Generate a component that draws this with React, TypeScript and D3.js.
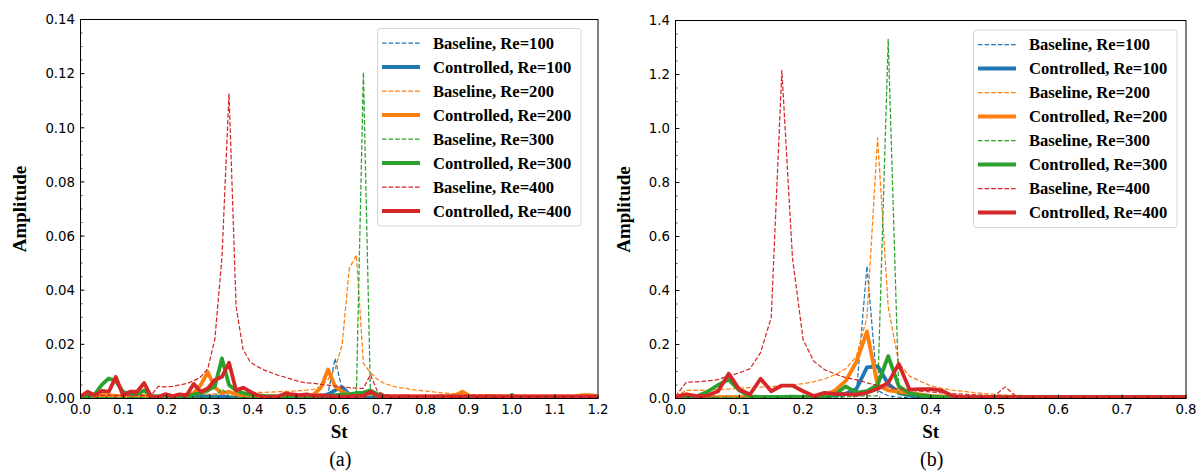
import React from "react";
import * as d3 from "d3";

// ---------- DATA ----------
// Panel (a): frequency resolution 0.0164, 74 samples (St 0 .. ~1.2)
const STEP_A = 0.0164;
const blueBaseA = [
  0.0002, 0.0002, 0.0002, 0.0002, 0.0002, 0.0002, 0.0002, 0.0002, 0.0002, 0.0002,
  0.0002, 0.0002, 0.0002, 0.0002, 0.0002, 0.0002, 0.0003, 0.0004, 0.0005, 0.0004,
  0.0004, 0.0003, 0.0003, 0.0003, 0.0003, 0.0003, 0.0003, 0.0003, 0.0003, 0.0003,
  0.0003, 0.0003, 0.0004, 0.0005, 0.0008, 0.002, 0.0148, 0.003, 0.001, 0.0005,
  0.0004, 0.0003, 0.0003, 0.0003, 0.0003, 0.0003, 0.0003, 0.0003, 0.0003, 0.0003,
  0.0003, 0.0003, 0.0003, 0.0003, 0.0003, 0.0003, 0.0003, 0.0003, 0.0003, 0.0003,
  0.0003, 0.0003, 0.0003, 0.0003, 0.0003, 0.0003, 0.0003, 0.0003, 0.0003, 0.0003,
  0.0003, 0.0003, 0.0003, 0.0003,
];
const blueCtrlA = [
  0.0003, 0.0003, 0.0003, 0.0003, 0.0003, 0.0003, 0.0003, 0.0003, 0.0003, 0.0003,
  0.0003, 0.0003, 0.0003, 0.0003, 0.0003, 0.0004, 0.0008, 0.0009, 0.0008, 0.0007,
  0.0008, 0.0005, 0.0004, 0.0003, 0.0003, 0.0003, 0.0003, 0.0003, 0.0003, 0.0003,
  0.0003, 0.0003, 0.0004, 0.0005, 0.0008, 0.0015, 0.003, 0.0042, 0.0015, 0.0008,
  0.0005, 0.0004, 0.0003, 0.0003, 0.0003, 0.0003, 0.0003, 0.0003, 0.0003, 0.0003,
  0.0003, 0.0003, 0.0003, 0.0003, 0.0003, 0.0003, 0.0003, 0.0003, 0.0003, 0.0003,
  0.0003, 0.0003, 0.0003, 0.0003, 0.0003, 0.0003, 0.0003, 0.0003, 0.0003, 0.0003,
  0.0003, 0.0003, 0.0003, 0.0003,
];
const orangeBaseA = [
  0.001, 0.001, 0.001, 0.001, 0.001, 0.001, 0.001, 0.001, 0.0011, 0.0011,
  0.0012, 0.0012, 0.0013, 0.0013, 0.0014, 0.0014, 0.0015, 0.0015, 0.0016, 0.0017,
  0.0018, 0.0025, 0.0018, 0.0019, 0.002, 0.0023, 0.0023, 0.0024, 0.0025, 0.0026,
  0.0027, 0.0029, 0.0031, 0.0034, 0.0045, 0.007, 0.011, 0.02, 0.048, 0.053,
  0.013, 0.0095, 0.007, 0.0055, 0.0047, 0.004, 0.0037, 0.0033, 0.003, 0.0027,
  0.0024, 0.0021, 0.0019, 0.0017, 0.0016, 0.0015, 0.0014, 0.0014, 0.0013, 0.0013,
  0.0012, 0.0012, 0.0011, 0.0011, 0.001, 0.001, 0.001, 0.0009, 0.0009, 0.0009,
  0.0009, 0.0008, 0.0008, 0.0008,
];
const orangeCtrlA = [
  0.0005, 0.0008, 0.001, 0.0012, 0.0012, 0.001, 0.0008, 0.001, 0.0012, 0.001,
  0.0006, 0.0006, 0.0006, 0.0006, 0.0006, 0.0008, 0.002, 0.005, 0.0098, 0.004,
  0.002, 0.0025, 0.0015, 0.0012, 0.001, 0.0009, 0.0008, 0.0008, 0.0008, 0.0008,
  0.0008, 0.0008, 0.0008, 0.0015, 0.004, 0.0107, 0.0045, 0.0025, 0.0015, 0.0012,
  0.001, 0.002, 0.001, 0.0009, 0.0008, 0.0008, 0.0008, 0.0008, 0.0008, 0.0008,
  0.0008, 0.0008, 0.0009, 0.0012, 0.0025, 0.001, 0.0008, 0.0008, 0.0008, 0.0008,
  0.0008, 0.0008, 0.0008, 0.0008, 0.0008, 0.0008, 0.0008, 0.0008, 0.0008, 0.0008,
  0.0009, 0.0012, 0.0012, 0.001,
];
const greenBaseA = [
  0.0003, 0.0003, 0.0003, 0.0003, 0.0003, 0.0003, 0.0003, 0.0003, 0.0003, 0.0003,
  0.0003, 0.0003, 0.0003, 0.0003, 0.0003, 0.0003, 0.0003, 0.0004, 0.0005, 0.0008,
  0.0035, 0.001, 0.0004, 0.0003, 0.0003, 0.0003, 0.0003, 0.0003, 0.0003, 0.0003,
  0.0003, 0.0003, 0.0003, 0.0003, 0.0003, 0.0003, 0.0003, 0.0004, 0.0005, 0.001,
  0.1205, 0.001, 0.0005, 0.0003, 0.0003, 0.0003, 0.0003, 0.0003, 0.0003, 0.0003,
  0.0003, 0.0003, 0.0003, 0.0003, 0.0003, 0.0003, 0.0003, 0.0003, 0.0003, 0.0004,
  0.0006, 0.0018, 0.0006, 0.0004, 0.0003, 0.0003, 0.0003, 0.0003, 0.0003, 0.0003,
  0.0003, 0.0003, 0.0003, 0.0003,
];
const greenCtrlA = [
  0.0005, 0.001, 0.0015, 0.005, 0.0074, 0.0065, 0.0025, 0.0015, 0.0015, 0.003,
  0.001, 0.0008, 0.0008, 0.001, 0.0008, 0.0006, 0.0015, 0.002, 0.003, 0.0045,
  0.0148, 0.005, 0.003, 0.002, 0.0015, 0.0012, 0.001, 0.0009, 0.0008, 0.0008,
  0.0008, 0.0008, 0.0008, 0.0008, 0.0008, 0.0008, 0.0012, 0.0015, 0.0015, 0.002,
  0.0022, 0.003, 0.0015, 0.0008, 0.0005, 0.0005, 0.0005, 0.0005, 0.0005, 0.0005,
  0.0005, 0.0005, 0.0005, 0.0005, 0.0005, 0.0005, 0.0005, 0.0005, 0.0005, 0.0005,
  0.0005, 0.0006, 0.0005, 0.0005, 0.0005, 0.0005, 0.0005, 0.0005, 0.0005, 0.0005,
  0.0005, 0.0005, 0.0005, 0.0005,
];
const redBaseA = [
  0.0012, 0.0012, 0.0012, 0.0012, 0.0012, 0.0012, 0.0012, 0.0012, 0.0012, 0.0012,
  0.0012, 0.0045, 0.0043, 0.0045, 0.005, 0.0055, 0.0065, 0.008, 0.011, 0.022,
  0.052, 0.1127, 0.034, 0.018, 0.0135, 0.0118, 0.0105, 0.0095, 0.0085, 0.0078,
  0.007, 0.0062, 0.0058, 0.0056, 0.0052, 0.0049, 0.0046, 0.0043, 0.004, 0.0038,
  0.0037, 0.0088, 0.0025, 0.0015, 0.0012, 0.0012, 0.0011, 0.0011, 0.001, 0.001,
  0.001, 0.001, 0.001, 0.001, 0.0009, 0.0009, 0.0009, 0.0009, 0.0009, 0.0009,
  0.0009, 0.0009, 0.0009, 0.0008, 0.0008, 0.0008, 0.0008, 0.0008, 0.0008, 0.0008,
  0.0008, 0.0008, 0.0008, 0.0008,
];
const redCtrlA = [
  0.0008, 0.0025, 0.0012, 0.0028, 0.0025, 0.008, 0.0012, 0.0025, 0.0025, 0.0057,
  0.0006, 0.0006, 0.0016, 0.0009, 0.0015, 0.0012, 0.0054, 0.0025, 0.0037, 0.0068,
  0.008, 0.0132, 0.003, 0.004, 0.0025, 0.0012, 0.0006, 0.0006, 0.0008, 0.0018,
  0.0015, 0.0012, 0.0015, 0.001, 0.0012, 0.001, 0.0008, 0.0006, 0.0008, 0.001,
  0.001, 0.0025, 0.001, 0.0008, 0.0008, 0.0008, 0.0009, 0.0008, 0.0008, 0.0008,
  0.0008, 0.0009, 0.0008, 0.0008, 0.0008, 0.0008, 0.0008, 0.0008, 0.0009, 0.0008,
  0.0008, 0.0008, 0.0008, 0.0008, 0.0008, 0.0008, 0.0008, 0.0008, 0.0008, 0.0008,
  0.0008, 0.0008, 0.0008, 0.0008,
];

// Panel (b): frequency resolution 1/60, 49 samples (St 0 .. 0.8)
const STEP_B = 1 / 60;
const blueBaseB = [
  0.003, 0.003, 0.003, 0.003, 0.003, 0.003, 0.003, 0.003, 0.003, 0.003,
  0.003, 0.003, 0.003, 0.003, 0.004, 0.006, 0.01, 0.015, 0.49, 0.03,
  0.01, 0.005, 0.003, 0.003, 0.003, 0.003, 0.003, 0.003, 0.003, 0.003,
  0.003, 0.003, 0.003, 0.003, 0.003, 0.003, 0.003, 0.003, 0.003, 0.003,
  0.003, 0.003, 0.003, 0.003, 0.003, 0.003, 0.003, 0.003, 0.003,
];
const blueCtrlB = [
  0.003, 0.004, 0.004, 0.004, 0.004, 0.004, 0.004, 0.004, 0.004, 0.004,
  0.004, 0.004, 0.005, 0.006, 0.008, 0.012, 0.018, 0.035, 0.115, 0.12,
  0.055, 0.02, 0.012, 0.008, 0.005, 0.004, 0.004, 0.004, 0.004, 0.004,
  0.004, 0.004, 0.004, 0.004, 0.004, 0.004, 0.004, 0.004, 0.004, 0.004,
  0.004, 0.004, 0.004, 0.004, 0.004, 0.004, 0.004, 0.004, 0.004,
];
const orangeBaseB = [
  0.005, 0.03, 0.03, 0.031, 0.033, 0.035, 0.038, 0.04, 0.042, 0.044,
  0.047, 0.05, 0.055, 0.062, 0.072, 0.088, 0.11, 0.155, 0.3, 0.965,
  0.34, 0.13, 0.083, 0.064, 0.047, 0.038, 0.031, 0.027, 0.022, 0.018,
  0.015, 0.013, 0.012, 0.011, 0.01, 0.009, 0.009, 0.008, 0.008, 0.007,
  0.007, 0.007, 0.006, 0.006, 0.006, 0.006, 0.005, 0.005, 0.005,
];
const orangeCtrlB = [
  0.003, 0.015, 0.008, 0.006, 0.005, 0.005, 0.005, 0.005, 0.005, 0.005,
  0.005, 0.005, 0.005, 0.006, 0.012, 0.03, 0.065, 0.135, 0.248, 0.05,
  0.03, 0.025, 0.02, 0.015, 0.01, 0.008, 0.006, 0.005, 0.005, 0.005,
  0.005, 0.005, 0.005, 0.005, 0.005, 0.006, 0.005, 0.005, 0.005, 0.005,
  0.005, 0.005, 0.005, 0.005, 0.005, 0.005, 0.005, 0.005, 0.005,
];
const greenBaseB = [
  0.003, 0.004, 0.004, 0.004, 0.004, 0.004, 0.004, 0.004, 0.004, 0.004,
  0.004, 0.004, 0.004, 0.004, 0.005, 0.005, 0.006, 0.008, 0.01, 0.01,
  1.33, 0.015, 0.01, 0.006, 0.004, 0.004, 0.004, 0.004, 0.004, 0.004,
  0.004, 0.004, 0.004, 0.004, 0.004, 0.004, 0.004, 0.004, 0.004, 0.004,
  0.004, 0.004, 0.004, 0.004, 0.004, 0.004, 0.004, 0.004, 0.004,
];
const greenCtrlB = [
  0.005, 0.01, 0.008, 0.025, 0.05, 0.07, 0.03, 0.008, 0.006, 0.006,
  0.006, 0.007, 0.006, 0.005, 0.008, 0.015, 0.045, 0.022, 0.027, 0.05,
  0.157, 0.045, 0.02, 0.012, 0.008, 0.005, 0.005, 0.005, 0.005, 0.005,
  0.005, 0.005, 0.005, 0.005, 0.005, 0.005, 0.005, 0.005, 0.005, 0.005,
  0.005, 0.005, 0.005, 0.005, 0.005, 0.005, 0.005, 0.005, 0.005,
];
const redBaseB = [
  0.008, 0.06, 0.062, 0.065, 0.07, 0.083, 0.095, 0.11, 0.17, 0.3,
  1.215, 0.52, 0.218, 0.138, 0.107, 0.091, 0.077, 0.07, 0.058, 0.048,
  0.043, 0.036, 0.031, 0.027, 0.024, 0.021, 0.018, 0.016, 0.014, 0.012,
  0.01, 0.043, 0.009, 0.008, 0.008, 0.007, 0.007, 0.007, 0.006, 0.006,
  0.006, 0.006, 0.006, 0.005, 0.005, 0.005, 0.005, 0.005, 0.005,
];
const redCtrlB = [
  0.006, 0.015, 0.009, 0.011, 0.027, 0.092, 0.033, 0.015, 0.073, 0.027,
  0.048, 0.048, 0.027, 0.009, 0.021, 0.017, 0.016, 0.014, 0.021, 0.036,
  0.058, 0.128, 0.033, 0.035, 0.035, 0.03, 0.01, 0.006, 0.005, 0.005,
  0.005, 0.005, 0.005, 0.005, 0.005, 0.005, 0.005, 0.005, 0.005, 0.005,
  0.005, 0.005, 0.005, 0.005, 0.005, 0.005, 0.005, 0.005, 0.005,
];

const legendLabels = [
  "Baseline, Re=100", "Controlled, Re=100",
  "Baseline, Re=200", "Controlled, Re=200",
  "Baseline, Re=300", "Controlled, Re=300",
  "Baseline, Re=400", "Controlled, Re=400",
];
const colors = ["#1f77b4", "#ff7f0e", "#2ca02c", "#d62728"];

const xTicksA = [0, 0.1, 0.2, 0.3, 0.4, 0.5, 0.6, 0.7, 0.8, 0.9, 1.0, 1.1, 1.2];
const yTicksA = [0, 0.02, 0.04, 0.06, 0.08, 0.1, 0.12, 0.14];
const xTicksB = [0, 0.1, 0.2, 0.3, 0.4, 0.5, 0.6, 0.7, 0.8];
const yTicksB = [0, 0.2, 0.4, 0.6, 0.8, 1.0, 1.2, 1.4];

const seriesA = [blueBaseA, blueCtrlA, orangeBaseA, orangeCtrlA, greenBaseA, greenCtrlA, redBaseA, redCtrlA];
const seriesB = [blueBaseB, blueCtrlB, orangeBaseB, orangeCtrlB, greenBaseB, greenCtrlB, redBaseB, redCtrlB];

const TICK_FONT = "'DejaVu Sans', sans-serif";
const SERIF = "'Liberation Serif', 'Times New Roman', serif";

type PanelProps = {
  id: string;
  series: number[][];
  step: number;
  xDomain: [number, number];
  yDomain: [number, number];
  xRange: [number, number];
  yRange: [number, number];
  xTicks: number[];
  yTicks: number[];
  xMinorStep: number;
  yMinorStep: number;
  xFmt: (v: number) => string;
  yFmt: (v: number) => string;
  legendX: number;
  legendY: number;
  tag: string;
  ylabelX: number;
};

function Panel(p: PanelProps) {
  const x = d3.scaleLinear().domain(p.xDomain).range(p.xRange);
  const y = d3.scaleLinear().domain(p.yDomain).range(p.yRange);
  const [x0, x1] = p.xRange;
  const [y0, y1] = p.yRange; // y0 bottom, y1 top
  const line = d3
    .line<number>()
    .x((_, i) => x(i * p.step))
    .y((d) => y(d));

  const nxMinor = Math.round((p.xDomain[1] - p.xDomain[0]) / p.xMinorStep);
  const xMinor = d3.range(nxMinor + 1).map((i) => p.xDomain[0] + i * p.xMinorStep);
  const nyMinor = Math.round((p.yDomain[1] - p.yDomain[0]) / p.yMinorStep);
  const yMinor = d3.range(nyMinor + 1).map((i) => p.yDomain[0] + i * p.yMinorStep);

  const lx = p.legendX;
  const ly = p.legendY;
  const rowH = 24;

  return (
    <g>
      <defs>
        <clipPath id={`clip-${p.id}`}>
          <rect x={x0} y={y1} width={x1 - x0} height={y0 - y1} />
        </clipPath>
      </defs>
      <g clipPath={`url(#clip-${p.id})`}>
        {p.series.map((s, i) => {
          const dashed = i % 2 === 0;
          return (
            <path
              key={i}
              d={line(s) || ""}
              fill="none"
              stroke={colors[Math.floor(i / 2)]}
              strokeWidth={dashed ? 1.25 : 3.8}
              strokeDasharray={dashed ? "4.6,2" : undefined}
              strokeLinejoin="round"
            />
          );
        })}
      </g>
      {/* minor ticks */}
      {xMinor.map((v, i) => (
        <line key={`xm${i}`} x1={x(v)} x2={x(v)} y1={y0} y2={y0 - 2} stroke="#000" strokeWidth={0.7} />
      ))}
      {yMinor.map((v, i) => (
        <line key={`ym${i}`} x1={x0} x2={x0 + 2} y1={y(v)} y2={y(v)} stroke="#000" strokeWidth={0.7} />
      ))}
      {/* major ticks */}
      {p.xTicks.map((v, i) => (
        <g key={`xt${i}`}>
          <line x1={x(v)} x2={x(v)} y1={y0} y2={y0 - 4} stroke="#000" strokeWidth={0.9} />
          <text x={x(v)} y={y0 + 15} textAnchor="middle" fontFamily={TICK_FONT} fontSize={13.3} fill="#000">
            {p.xFmt(v)}
          </text>
        </g>
      ))}
      {p.yTicks.map((v, i) => (
        <g key={`yt${i}`}>
          <line x1={x0} x2={x0 + 4} y1={y(v)} y2={y(v)} stroke="#000" strokeWidth={0.9} />
          <text x={x0 - 5.5} y={y(v) + 4.8} textAnchor="end" fontFamily={TICK_FONT} fontSize={13.3} fill="#000">
            {p.yFmt(v)}
          </text>
        </g>
      ))}
      {/* frame */}
      <rect x={x0} y={y1} width={x1 - x0} height={y0 - y1} fill="none" stroke="#000" strokeWidth={1} />
      {/* axis labels */}
      <text x={(x0 + x1) / 2} y={y0 + 39} textAnchor="middle" fontFamily={SERIF} fontWeight="bold" fontSize={19} fill="#000">
        St
      </text>
      <text
        transform={`translate(${p.ylabelX},${(y0 + y1) / 2}) rotate(-90)`}
        textAnchor="middle"
        fontFamily={SERIF}
        fontWeight="bold"
        fontSize={19}
        fill="#000"
      >
        Amplitude
      </text>
      <text x={(x0 + x1) / 2 + 1} y={y0 + 67} textAnchor="middle" fontFamily={SERIF} fontSize={20} fill="#000">
        {p.tag}
      </text>
      {/* legend */}
      <rect x={lx} y={ly} width={203.5} height={197.5} rx={3} fill="#fff" fillOpacity={0.8} stroke="#d6d6d6" strokeWidth={1} />
      {legendLabels.map((lab, i) => {
        const cy = ly + 14.5 + i * rowH;
        const dashed = i % 2 === 0;
        return (
          <g key={`lg${i}`}>
            <line
              x1={lx + 4.5}
              x2={lx + 42.5}
              y1={cy}
              y2={cy}
              stroke={colors[Math.floor(i / 2)]}
              strokeWidth={dashed ? 1.25 : 3.8}
              strokeDasharray={dashed ? "4.6,2" : undefined}
            />
            <text x={lx + 55.5} y={cy + 5.6} fontFamily={SERIF} fontWeight="bold" fontSize={16.6} fill="#000">
              {lab}
            </text>
          </g>
        );
      })}
    </g>
  );
}

export default function App() {
  return (
    <svg
      width={1202}
      height={471}
      style={{ position: "absolute", left: 0, top: 0, background: "#fff" }}
    >
      <rect x={0} y={0} width={1202} height={471} fill="#fff" />
      <Panel
        id="a"
        series={seriesA}
        step={STEP_A}
        xDomain={[0, 1.2]}
        yDomain={[0, 0.14]}
        xRange={[80.5, 598]}
        yRange={[398.5, 19.5]}
        xTicks={xTicksA}
        yTicks={yTicksA}
        xMinorStep={0.02}
        yMinorStep={0.005}
        xFmt={(v) => v.toFixed(1)}
        yFmt={(v) => v.toFixed(2)}
        legendX={377.5}
        legendY={28.5}
        tag="(a)"
        ylabelX={26}
      />
      <Panel
        id="b"
        series={seriesB}
        step={STEP_B}
        xDomain={[0, 0.8]}
        yDomain={[0, 1.4]}
        xRange={[675.5, 1186]}
        yRange={[398.5, 20.5]}
        xTicks={xTicksB}
        yTicks={yTicksB}
        xMinorStep={0.02}
        yMinorStep={0.05}
        xFmt={(v) => v.toFixed(1)}
        yFmt={(v) => v.toFixed(1)}
        legendX={973.5}
        legendY={30}
        tag="(b)"
        ylabelX={630}
      />
    </svg>
  );
}
